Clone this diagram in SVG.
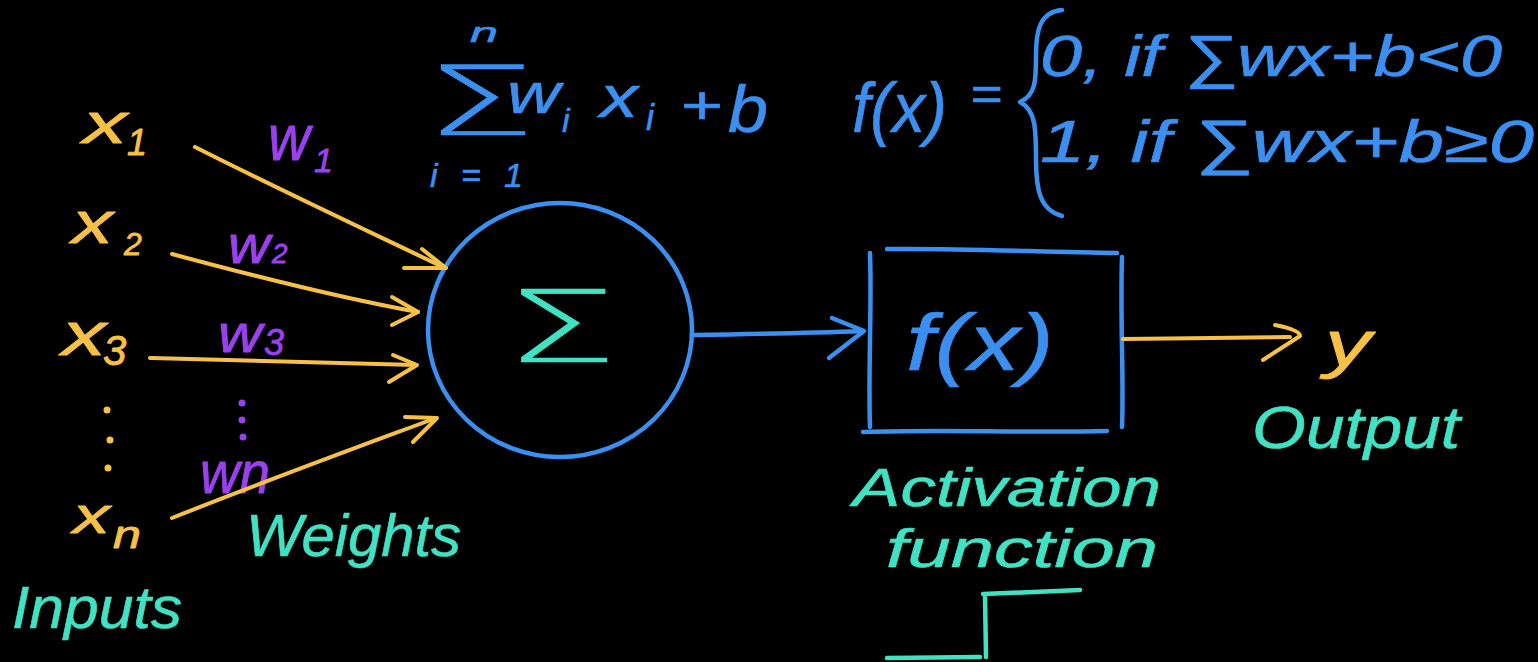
<svg xmlns="http://www.w3.org/2000/svg" width="1538" height="662" viewBox="0 0 1538 662">
  <defs>
    <style>
      .hand { font-family: "Liberation Sans", "DejaVu Sans", sans-serif; font-style: italic; stroke-linejoin: round; }
      .thin { font-family: "DejaVu Sans", "Liberation Sans", sans-serif; font-weight: 200; font-style: normal; }
      .yel { fill: #f6c145; stroke: #f6c145; stroke-width: 0.8; }
      .pur { fill: #9b40ee; stroke: #9b40ee; stroke-width: 0.8; }
      .blu { fill: #3b8ff0; stroke: #3b8ff0; stroke-width: 0.6; }
      .tea { fill: #40e2c4; stroke: #40e2c4; stroke-width: 0.6; }
      .ln { fill: none; stroke-linecap: round; stroke-linejoin: round; }
      .ln-y { stroke: #f6c145; stroke-width: 4; }
      .ln-b { stroke: #3b8ff0; stroke-width: 4.5; }
      .ln-t { stroke: #40e2c4; stroke-width: 4.5; }
    </style>
  </defs>

  <rect width="1538" height="662" fill="#000"/>

  <!-- inputs -->
  <g id="inputs">
    <text class="hand yel" x="83" y="143" font-size="58" textLength="44" lengthAdjust="spacingAndGlyphs">x</text>
    <text class="hand yel" x="127" y="155" font-size="36">1</text>
    <text class="hand yel" x="72" y="243" font-size="60" textLength="41" lengthAdjust="spacingAndGlyphs">x</text>
    <text class="hand yel" x="124" y="255" font-size="32">2</text>
    <text class="hand yel" x="62" y="355" font-size="62" textLength="44" lengthAdjust="spacingAndGlyphs">x</text>
    <text class="hand yel" x="103" y="365" font-size="42">3</text>
    <circle cx="107" cy="410" r="3.5" fill="#f6c145"/>
    <circle cx="110" cy="440" r="3.5" fill="#f6c145"/>
    <circle cx="108" cy="468" r="3.5" fill="#f6c145"/>
    <text class="hand yel" x="73" y="533" font-size="52" textLength="37" lengthAdjust="spacingAndGlyphs">x</text>
    <text class="hand yel" x="113" y="548" font-size="38" textLength="28" lengthAdjust="spacingAndGlyphs">n</text>
    <text class="hand tea" x="12" y="628" font-size="60" textLength="170" lengthAdjust="spacingAndGlyphs">Inputs</text>
  </g>

  <!-- weights -->
  <g id="weights">
    <text class="hand pur" x="268" y="160" font-size="64" textLength="42" lengthAdjust="spacingAndGlyphs">w</text>
    <text class="hand pur" x="314" y="172" font-size="34">1</text>
    <text class="hand pur" x="228" y="263" font-size="54" textLength="42" lengthAdjust="spacingAndGlyphs">w</text>
    <text class="hand pur" x="272" y="263" font-size="28">2</text>
    <text class="hand pur" x="218" y="352" font-size="54" textLength="44" lengthAdjust="spacingAndGlyphs">w</text>
    <text class="hand pur" x="264" y="355" font-size="36">3</text>
    <circle cx="242" cy="403" r="3.5" fill="#9b40ee"/>
    <circle cx="242" cy="420" r="3.5" fill="#9b40ee"/>
    <circle cx="243" cy="437" r="3.5" fill="#9b40ee"/>
    <text class="hand pur" x="200" y="493" font-size="60" textLength="70" lengthAdjust="spacingAndGlyphs">wn</text>
    <text class="hand tea" x="246" y="556" font-size="60" textLength="215" lengthAdjust="spacingAndGlyphs">Weights</text>
  </g>

  <!-- weighted sum formula -->
  <g id="sum-formula">
    <text class="hand blu" x="470" y="42" font-size="28" textLength="28" lengthAdjust="spacingAndGlyphs">n</text>
    <text class="blu thin" x="424" y="135" font-size="96" textLength="112" lengthAdjust="spacingAndGlyphs">Σ</text>
    <text class="hand blu" x="507" y="113" font-size="58" textLength="53" lengthAdjust="spacingAndGlyphs">w</text>
    <text class="hand blu" x="562" y="132" font-size="34">i</text>
    <text class="hand blu" x="600" y="117" font-size="60" textLength="38" lengthAdjust="spacingAndGlyphs">x</text>
    <text class="hand blu" x="646" y="130" font-size="36">i</text>
    <text class="hand blu" x="680" y="124" font-size="54" textLength="42" lengthAdjust="spacingAndGlyphs">+</text>
    <text class="hand blu" x="728" y="132" font-size="66" textLength="40" lengthAdjust="spacingAndGlyphs">b</text>
    <text class="hand blu" x="430" y="187" font-size="34" textLength="93" lengthAdjust="spacing">i=1</text>
  </g>

  <!-- step function definition -->
  <g id="activation-formula">
    <text class="hand blu" x="852" y="132" font-size="70" textLength="95" lengthAdjust="spacingAndGlyphs">f(x)</text>
    <text class="hand blu" x="970" y="110" font-size="46" textLength="32" lengthAdjust="spacingAndGlyphs">=</text>
    <path class="ln ln-b" d="M1062,10 C1040,12 1036,30 1036,55 C1036,80 1036,95 1020,102 C1036,110 1036,130 1036,160 C1036,190 1040,210 1062,216"/>
    <text class="hand blu" x="1040" y="76" font-size="58" textLength="462" lengthAdjust="spacingAndGlyphs">0, if ∑wx+b&lt;0</text>
    <text class="hand blu" x="1040" y="162" font-size="60" textLength="494" lengthAdjust="spacingAndGlyphs">1, if ∑wx+b≥0</text>
  </g>

  <!-- summation node -->
  <g id="sum-node">
    <ellipse cx="560" cy="330" rx="132" ry="127" fill="none" stroke="#3b8ff0" stroke-width="4.5"/>
    <text class="tea thin" x="504" y="362" font-size="100" textLength="114" lengthAdjust="spacingAndGlyphs">Σ</text>
  </g>

  <!-- activation node -->
  <g id="activation-node">
    <path class="ln ln-b" d="M870,253 C872,310 868,370 870,427"/>
    <path class="ln ln-b" d="M887,249 C960,248 1040,252 1117,253"/>
    <path class="ln ln-b" d="M1122,257 C1120,320 1124,380 1122,427"/>
    <path class="ln ln-b" d="M863,432 C940,429 1020,433 1107,431"/>
    <text class="hand blu" x="906" y="370" font-size="80" textLength="148" lengthAdjust="spacingAndGlyphs">f(x)</text>
    <text class="hand tea" x="853" y="506" font-size="54" textLength="308" lengthAdjust="spacingAndGlyphs">Activation</text>
    <text class="hand tea" x="886" y="567" font-size="54" textLength="272" lengthAdjust="spacingAndGlyphs">function</text>
    <path class="ln ln-t" d="M887,658 L980,657 M985,596 L986,657 M983,594 L1080,590"/>
  </g>

  <!-- output -->
  <g id="output">
    <text class="hand yel" x="1325" y="366" font-size="64" textLength="46" lengthAdjust="spacingAndGlyphs">y</text>
    <text class="hand tea" x="1252" y="448" font-size="60" textLength="208" lengthAdjust="spacingAndGlyphs">Output</text>
  </g>

  <!-- connectors -->
  <g id="connectors" class="ln">
    <path class="ln-y" d="M195,147 C280,190 370,232 445,268"/>
    <path class="ln-y" d="M422,249 L446,268 L404,268"/>
    <path class="ln-y" d="M172,254 C250,275 340,298 418,312"/>
    <path class="ln-y" d="M392,297 L418,312 L392,325"/>
    <path class="ln-y" d="M150,358 C240,360 330,363 416,365"/>
    <path class="ln-y" d="M393,355 L417,365 L389,382"/>
    <path class="ln-y" d="M172,518 C260,483 350,450 436,418"/>
    <path class="ln-y" d="M405,417 L437,418 L413,442"/>
    <path class="ln-b" d="M692,335 C760,334 810,333 863,331"/>
    <path class="ln-b" d="M832,318 L864,331 L829,358"/>
    <path class="ln-y" d="M1123,339 C1180,338 1230,338 1290,337"/>
    <path class="ln-y" d="M1275,325 Q1300,330 1300,336 L1263,360"/>
  </g>
</svg>
